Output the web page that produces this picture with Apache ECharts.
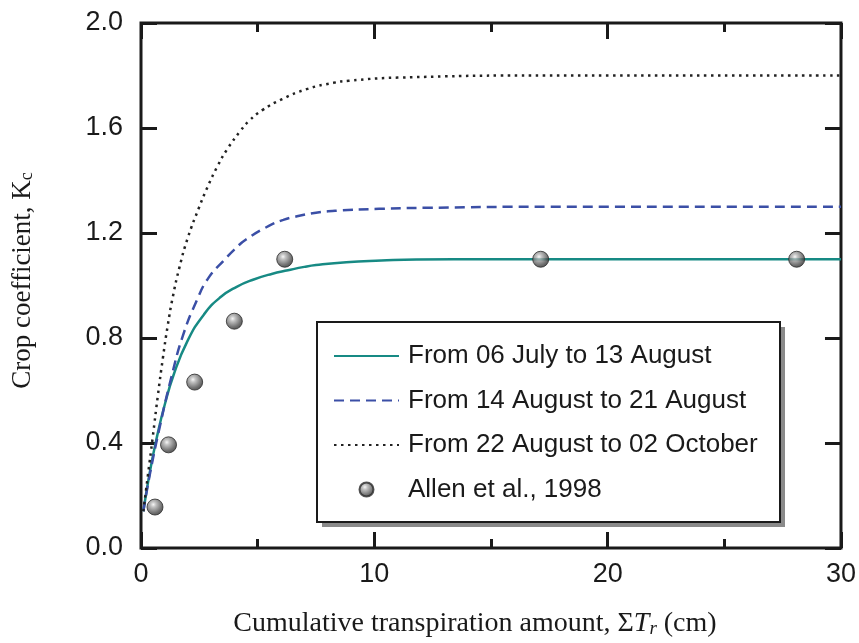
<!DOCTYPE html>
<html>
<head>
<meta charset="utf-8">
<title>Crop coefficient vs cumulative transpiration</title>
<script src="https://cdn.jsdelivr.net/npm/echarts@6/dist/echarts.min.js"></script>
<style>
  html, body { margin: 0; padding: 0; background: #fff; }
  #chart { width: 859px; height: 643px; }
</style>
</head>
<body>
<div id="chart"></div>
<script>
// Kc curves for three periods (x: cumulative transpiration, cm)
const julyAugX = [0.1, 0.4, 0.7, 1.0, 1.4, 2.0, 2.7, 3.4, 4.1, 4.8, 5.6, 6.3, 7.0, 7.5, 8.8, 10.3, 11.8, 15, 20, 30];
const julyAugY = [0.14, 0.30, 0.43, 0.54, 0.66, 0.79, 0.89, 0.955, 0.995, 1.022, 1.044, 1.058, 1.071, 1.078, 1.089, 1.095, 1.099, 1.10, 1.10, 1.10];

const augAugX = [0.1, 0.4, 0.8, 1.3, 1.8, 2.4, 2.9, 3.6, 4.0, 4.5, 5.5, 6.1, 6.6, 7.5, 8.4, 10.2, 12.3, 17.4, 30];
const augAugY = [0.14, 0.29, 0.46, 0.65, 0.81, 0.945, 1.03, 1.10, 1.137, 1.175, 1.228, 1.25, 1.262, 1.277, 1.285, 1.292, 1.296, 1.30, 1.30];

const augOctX = [0.1, 0.3, 0.5, 0.72, 0.94, 1.15, 1.36, 1.65, 2.0, 2.5, 2.85, 3.28, 3.7, 4.27, 4.64, 5.2, 6.05, 7.1, 8.25, 8.9, 11.0, 17.4, 30];
const augOctY = [0.14, 0.28, 0.42, 0.579, 0.725, 0.85, 0.955, 1.07, 1.18, 1.30, 1.375, 1.455, 1.52, 1.59, 1.628, 1.668, 1.71, 1.748, 1.772, 1.78, 1.792, 1.80, 1.80];

// FAO-56 reference values
const allenX = [0.6, 1.18, 2.3, 4.0, 6.16, 17.13, 28.1];
const allenY = [0.156, 0.393, 0.632, 0.864, 1.10, 1.10, 1.10];

const seriesNames = [
  'From 06 July to 13 August',
  'From 14 August to 21 August',
  'From 22 August to 02 October',
  'Allen et al., 1998'
];

const zip = (xs, ys) => xs.map((x, i) => [x, ys[i]]);

const sans = "'Liberation Sans', Arial, Helvetica, sans-serif";
const serif = "'Liberation Serif', 'Times New Roman', serif";
const ink = '#1a1a1a';

const ball = {
  type: 'radial', x: 0.4, y: 0.35, r: 0.7,
  colorStops: [
    { offset: 0, color: '#f4f4f4' },
    { offset: 0.22, color: '#b4b4b4' },
    { offset: 0.7, color: '#505050' },
    { offset: 1, color: '#202020' }
  ]
};

// Legend frame (box with a hard drop shadow)
const legendBox = { left: 317, top: 322, width: 463, height: 200 };

// Frame-side axes: ticks pointing into the plot, no axis line (the grid border draws the frame)
function frameAxis(extra) {
  return Object.assign({
    axisLine: { show: false, onZero: false },
    splitLine: { show: false },
    axisTick: { show: true, inside: true, length: 16, lineStyle: { color: ink, width: 3 } }
  }, extra);
}

const chart = echarts.init(document.getElementById('chart'), null, { renderer: 'canvas' });

chart.setOption({
  backgroundColor: '#fff',
  animation: false,
  grid: {
    left: 141, right: 14, top: 23, bottom: 94,
    show: true, borderColor: ink, borderWidth: 3, backgroundColor: 'transparent'
  },
  graphic: [
    {
      type: 'rect', z: 1, silent: true,
      shape: { x: legendBox.left + 5, y: legendBox.top + 5, width: legendBox.width, height: legendBox.height },
      style: { fill: '#8a8a8a' }
    },
    {
      type: 'rect', z: 2, silent: true,
      shape: { x: legendBox.left, y: legendBox.top, width: legendBox.width, height: legendBox.height },
      style: { fill: '#fff', stroke: ink, lineWidth: 2 }
    }
  ],
  legend: {
    orient: 'vertical',
    left: legendBox.left, top: legendBox.top,
    data: [
      { name: seriesNames[0], itemStyle: { opacity: 0 } },
      { name: seriesNames[1], itemStyle: { opacity: 0 } },
      { name: seriesNames[2], itemStyle: { opacity: 0 } },
      { name: seriesNames[3] }
    ],
    itemWidth: 65, itemHeight: 14, itemGap: 18.5,
    padding: [21, 18, 21, 16],
    textStyle: { fontFamily: sans, fontSize: 26, color: ink, padding: [0, 0, 0, 4] }
  },
  xAxis: [
    frameAxis({
      type: 'value', min: 0, max: 30, interval: 10, position: 'bottom',
      minorTick: { show: true, splitNumber: 2, length: 9, lineStyle: { color: ink, width: 3 } },
      axisLabel: { fontFamily: sans, fontSize: 27, color: ink, margin: 13 },
      name: 'Cumulative transpiration amount, {sym|Σ}{it|T}{sub|r} (cm)',
      nameLocation: 'middle', nameGap: 62,
      nameTextStyle: {
        fontFamily: serif, fontSize: 28, color: ink, padding: [0, 32, 0, 0],
        rich: {
          sym: { fontFamily: serif, fontSize: 28, color: ink },
          it: { fontFamily: serif, fontSize: 28, fontStyle: 'italic', color: ink },
          sub: { fontFamily: serif, fontSize: 19, fontStyle: 'italic', color: ink, verticalAlign: 'bottom', lineHeight: 26 }
        }
      }
    }),
    frameAxis({
      type: 'value', min: 0, max: 30, interval: 10, position: 'top',
      minorTick: { show: true, splitNumber: 2, length: 9, lineStyle: { color: ink, width: 3 } },
      axisLabel: { show: false }
    })
  ],
  yAxis: [
    frameAxis({
      type: 'value', min: 0, max: 2, interval: 0.4, position: 'left',
      axisLabel: { fontFamily: sans, fontSize: 27, color: ink, margin: 18, formatter: v => v.toFixed(1) },
      name: 'Crop coefficient, K{sub|c}',
      nameLocation: 'middle', nameGap: 105,
      nameTextStyle: {
        fontFamily: serif, fontSize: 27, color: ink, padding: [0, 0, 0, 10],
        rich: {
          sub: { fontFamily: serif, fontSize: 18, color: ink, verticalAlign: 'bottom', lineHeight: 25 }
        }
      }
    }),
    frameAxis({
      type: 'value', min: 0, max: 2, interval: 0.4, position: 'right',
      axisLabel: { show: false }
    })
  ],
  series: [
    {
      name: seriesNames[0], type: 'line', data: zip(julyAugX, julyAugY),
      symbol: 'none', smooth: 0.5,
      lineStyle: { color: '#178a84', width: 2.5, type: 'solid' },
      itemStyle: { color: '#178a84' }, z: 3
    },
    {
      name: seriesNames[1], type: 'line', data: zip(augAugX, augAugY),
      symbol: 'none', smooth: 0.5,
      lineStyle: { color: '#3b4fa6', width: 2.5, type: [10, 6] },
      itemStyle: { color: '#3b4fa6' }, z: 3
    },
    {
      name: seriesNames[2], type: 'line', data: zip(augOctX, augOctY),
      symbol: 'none', smooth: 0.5,
      lineStyle: { color: '#222', width: 2.5, type: [2.5, 4.5] },
      itemStyle: { color: '#222' }, z: 3
    },
    {
      name: seriesNames[3], type: 'scatter', data: zip(allenX, allenY),
      symbol: 'circle', symbolSize: 16,
      itemStyle: { color: ball, borderColor: '#2a2a2a', borderWidth: 1 },
      z: 4
    }
  ]
});
</script>
</body>
</html>
